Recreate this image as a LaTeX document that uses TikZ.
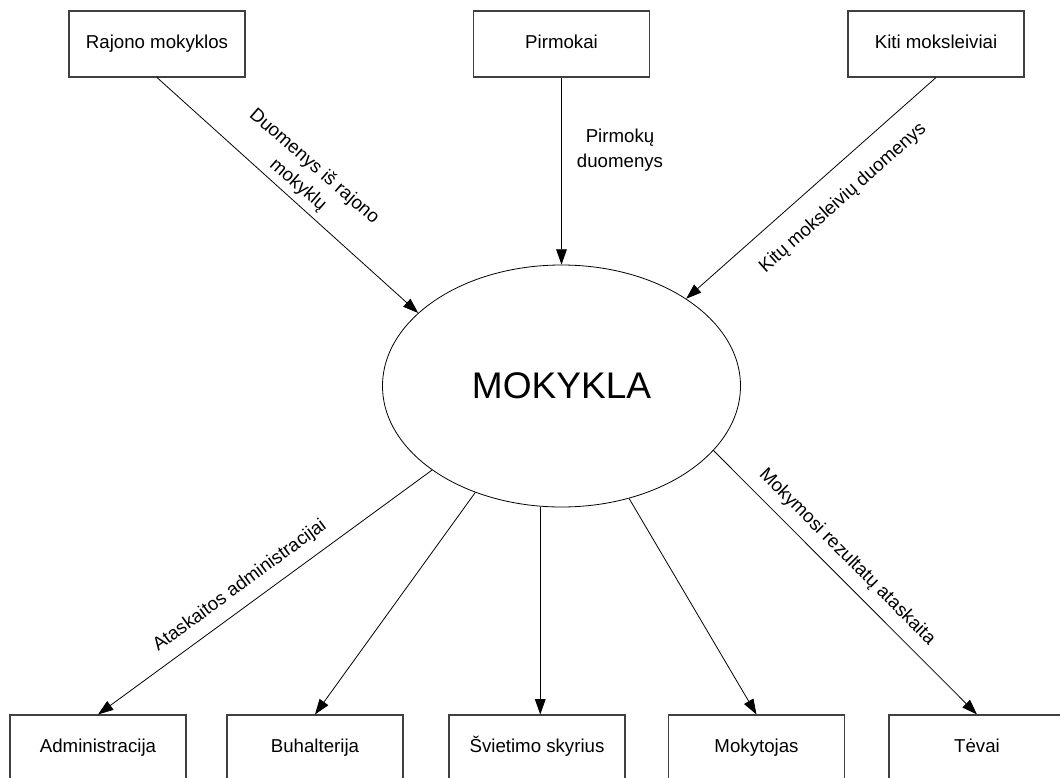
\documentclass[tikz,border=0pt]{standalone}
\usepackage{fontspec}
\setmainfont{Liberation Sans}
\usetikzlibrary{shapes.geometric,arrows.meta}
\begin{document}
\begin{tikzpicture}[x=0.75pt,y=-0.75pt,
  entity/.style={draw=black!75,line width=0.8pt,minimum width=132pt,minimum height=49.5pt,
    inner sep=0pt,text height=10pt,text depth=3pt,font=\fontsize{14pt}{17pt}\selectfont},
  flow/.style={draw=black,line width=0.6pt,-{Triangle[length=11.5pt,width=8pt]}},
  flowlabel/.style={inner sep=0pt,align=center,font=\fontsize{14pt}{18.5pt}\selectfont}]
\useasboundingbox (0,0) rectangle (1060,778);
\clip (0,0) rectangle (1060,778);

% sources
\node[entity] (rajono) at (157,44) {Rajono mokyklos};
\node[entity] (pirmokai) at (561.5,44) {Pirmokai};
\node[entity] (kiti) at (936,44) {Kiti moksleiviai};

% central process
\node[ellipse,draw=black,line width=0.6pt,minimum width=268.5pt,minimum height=181.5pt,
  inner sep=0pt,font=\fontsize{27.8pt}{32pt}\selectfont] (mok) at (561.5,386) {MOKYKLA};

% receivers
\node[entity] (admin) at (98,748) {Administracija};
\node[entity] (buh) at (315,748) {Buhalterija};
\node[entity] (sviet) at (537,748) {Švietimo skyrius};
\node[entity] (mokyt) at (756.5,748) {Mokytojas};
\node[entity] (tevai) at (977,748) {Tėvai};

% incoming data flows
\draw[flow] (rajono.south) -- (mok.153.3);
\draw[flow] (pirmokai.south) -- (mok.90);
\draw[flow] (kiti.south) -- (mok.35);

% outgoing reports
\draw[flow] (mok.213.6) -- (admin.north);
\draw[flow] (mok.231.7) -- (buh.north);
\draw[flow] (mok.260) -- (mok.260 |- sviet.north);
\draw[flow] (mok.301.3) -- (mokyt.north);
\draw[flow] (mok.337.4) -- (tevai.north);

% flow labels
\node[flowlabel,rotate=-41] (l1) at (306,176) {Duomenys iš rajono\\mokyklų};
\node[flowlabel] (l2) at (620,150) {Pirmokų\\duomenys};
\node[flowlabel,rotate=41.6] (l3) at (843,198) {Kitų moksleivių duomenys};
\node[flowlabel,rotate=36.3] (l4) at (240,586) {Ataskaitos administracijai};
\node[flowlabel,rotate=-45] (l5) at (847,557) {Mokymosi rezultatų ataskaita};
\end{tikzpicture}
\end{document}
